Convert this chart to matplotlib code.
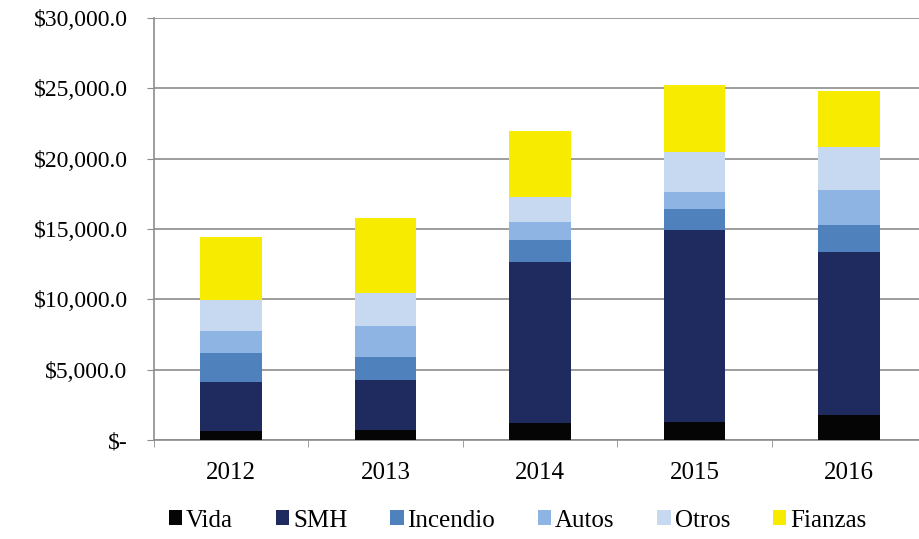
import matplotlib.pyplot as plt
from matplotlib.ticker import FuncFormatter, FixedLocator

years = ["2012", "2013", "2014", "2015", "2016"]
vida = [650, 700, 1200, 1300, 1780]
smh = [3470, 3570, 11450, 13630, 11590]
incendio = [2060, 1630, 1560, 1490, 1920]
autos = [1560, 2200, 1280, 1210, 2490]
otros = [2200, 2350, 1780, 2840, 3060]
fianzas = [4480, 5330, 4690, 4760, 3980]

series = [
    ("Vida", vida, "#050505"),
    ("SMH", smh, "#1F2A5E"),
    ("Incendio", incendio, "#4F81BD"),
    ("Autos", autos, "#8EB4E3"),
    ("Otros", otros, "#C6D9F1"),
    ("Fianzas", fianzas, "#F7EC00"),
]

plt.rcParams["font.family"] = ["Liberation Serif", "DejaVu Serif"]

fig = plt.figure(figsize=(9.19, 5.39), dpi=100)
ax = fig.add_axes([154 / 919, 99 / 539, 772 / 919, 422 / 539])

x = list(range(len(years)))
bottom = [0] * len(years)
for name, vals, color in series:
    ax.bar(x, vals, width=0.4, bottom=bottom, color=color, label=name,
           zorder=3, linewidth=0)
    bottom = [b + v for b, v in zip(bottom, vals)]

ax.set_xlim(-0.5, 4.5)
ax.set_ylim(0, 30000)
ax.set_yticks(range(0, 30001, 5000))


def money(v, pos):
    if v == 0:
        return "$-"
    return "${:,.1f}".format(v)


ax.yaxis.set_major_formatter(FuncFormatter(money))
ax.grid(axis="y", color="#8c8c8c", linewidth=1.2, zorder=0)

ax.set_xticks(x)
ax.set_xticklabels(years)
ax.xaxis.set_minor_locator(FixedLocator([i - 0.5 for i in range(len(years) + 1)]))
ax.tick_params(axis="x", which="major", length=0, pad=16, labelsize=18)
ax.tick_params(axis="x", which="minor", length=5, color="#8c8c8c")
ax.tick_params(axis="y", length=5, color="#8c8c8c", pad=14, labelsize=17)

for side in ["top", "right"]:
    ax.spines[side].set_visible(False)
for side in ["left", "bottom"]:
    ax.spines[side].set_color("#8c8c8c")
    ax.spines[side].set_linewidth(1.2)

fig.legend(loc="center", bbox_to_anchor=(0.563, 0.034), ncol=6, frameon=False,
           fontsize=18, handlelength=0.55, handleheight=0.55, handletextpad=0.15,
           columnspacing=1.7)

fig.savefig("out.png", dpi=100)
